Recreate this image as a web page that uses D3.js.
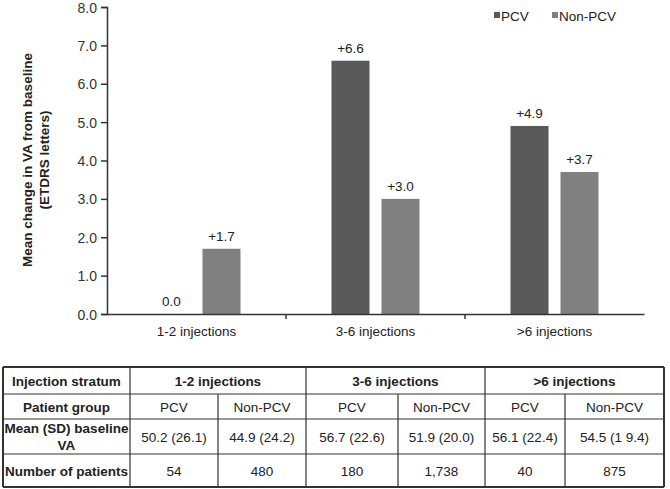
<!DOCTYPE html>
<html>
<head>
<meta charset="utf-8">
<script src="https://cdn.jsdelivr.net/npm/d3@7"></script>
<style>
  body { margin: 0; background: #fff; }
  svg { font-family: "Liberation Sans", Arial, sans-serif; }
</style>
</head>
<body>
<svg id="chart" width="670" height="489"></svg>
<script>
const categories = ['1-2 injections', '3-6 injections', '>6 injections'];
const groups = ['PCV', 'Non-PCV'];
const pcvValues = [0.0, 6.6, 4.9];
const nonPcvValues = [1.7, 3.0, 3.7];
const yTicks = [0, 1, 2, 3, 4, 5, 6, 7, 8];

// table contents
const tableHeader = ['Injection stratum', '1-2 injections', '3-6 injections', '>6 injections'];
const baselineVA = ['50.2 (26.1)', '44.9 (24.2)', '56.7 (22.6)', '51.9 (20.0)', '56.1 (22.4)', '54.5 (1 9.4)'];
const patientCounts = ['54', '480', '180', '1,738', '40', '875'];

const colors = d3.scaleOrdinal().domain(groups).range(['#595959', '#808080']);
const svg = d3.select('#chart');

let x0 = d3.scaleBand().domain(categories).range([107, 644]);
let x1 = d3.scaleBand().domain(groups).range([0, 88]).paddingInner(0.24);
let y = d3.scaleLinear().domain([0, 8]).range([314, 7]);

let data = categories.map((c, i) => ({ cat: c, values: [pcvValues[i], nonPcvValues[i]] }));

// bars
let cg = svg.selectAll('g.cat')
  .data(data)
  .join('g')
  .attr('class', 'cat')
  .attr('transform', d => `translate(${x0(d.cat) + (x0.bandwidth() - 88) / 2},0)`);

cg.selectAll('rect')
  .data(d => d.values.map((v, i) => ({ g: groups[i], v })))
  .join('rect')
  .attr('x', d => x1(d.g))
  .attr('y', d => y(d.v))
  .attr('width', x1.bandwidth())
  .attr('height', d => y(0) - y(d.v))
  .attr('fill', d => colors(d.g));

cg.selectAll('text')
  .data(d => d.values.map((v, i) => ({ g: groups[i], v })))
  .join('text')
  .attr('x', d => x1(d.g) + x1.bandwidth() / 2)
  .attr('y', d => y(d.v) - 8)
  .attr('text-anchor', 'middle')
  .attr('font-size', 13.5)
  .attr('fill', '#222')
  .text(d => d.v === 0 ? '0.0' : '+' + d.v.toFixed(1));

// y axis
let yAxis = svg.append('g')
  .attr('transform', 'translate(107,0)')
  .call(d3.axisLeft(y).tickValues(yTicks).tickFormat(d3.format('.1f')).tickSize(6).tickPadding(4));
yAxis.select('.domain').attr('stroke', '#333').attr('stroke-width', 1.5);
yAxis.selectAll('.tick line').attr('stroke', '#333').attr('stroke-width', 1.5);
yAxis.selectAll('.tick text').attr('font-size', 14).attr('fill', '#333').attr('font-family', null).attr('dy', '0.36em');

// x axis
let xAxis = svg.append('g')
  .attr('transform', 'translate(0,314)')
  .call(d3.axisBottom(x0).tickSize(0).tickPadding(12));
xAxis.select('.domain').attr('stroke', '#333').attr('stroke-width', 1.5);
xAxis.selectAll('.tick text').attr('font-size', 13.5).attr('fill', '#222').attr('font-family', null);
// category separators
xAxis.selectAll('line.sep')
  .data(categories.slice(1))
  .join('line')
  .attr('class', 'sep')
  .attr('x1', d => x0(d)).attr('x2', d => x0(d))
  .attr('y1', 0).attr('y2', 5)
  .attr('stroke', '#333').attr('stroke-width', 1.5);

// y label
let yl = svg.append('text')
  .attr('transform', 'translate(36,160) rotate(-90)')
  .attr('text-anchor', 'middle')
  .attr('font-size', 13.5)
  .attr('font-weight', 'bold')
  .attr('fill', '#222');
yl.append('tspan').attr('x', 0).attr('dy', -4).text('Mean change in VA from baseline');
yl.append('tspan').attr('x', 0).attr('dy', 17).text('(ETDRS letters)');

// legend
let lg = svg.selectAll('g.leg')
  .data(groups)
  .join('g')
  .attr('class', 'leg')
  .attr('transform', (d, i) => `translate(${[494, 552][i]},16)`);
lg.append('rect').attr('x', 0).attr('y', -4).attr('width', 6).attr('height', 6).attr('fill', d => colors(d));
lg.append('text').attr('x', 7).attr('y', 5).attr('font-size', 13.5).attr('fill', '#222').text(d => d);

// table
const colX = [3, 130, 218, 306, 398, 485, 565, 664];
const rowY = [367, 394, 419, 454, 487];
let tbl = svg.append('g');

function cell(x, yy, w, h, lines, bold) {
  let t = tbl.append('text')
    .attr('text-anchor', 'middle')
    .attr('font-size', 13.5)
    .attr('font-weight', bold ? 'bold' : 'normal')
    .attr('fill', '#222');
  let n = lines.length;
  lines.forEach((s, k) => {
    t.append('tspan')
      .attr('x', x + w / 2)
      .attr('y', yy + h / 2 + 5 + (k - (n - 1) / 2) * 17)
      .text(s);
  });
}

// horizontal lines
tbl.selectAll('line.h')
  .data(rowY)
  .join('line')
  .attr('class', 'h')
  .attr('x1', colX[0]).attr('x2', colX[7])
  .attr('y1', d => d).attr('y2', d => d)
  .attr('stroke', '#333')
  .attr('stroke-width', (d, i) => (i === 0 || i === rowY.length - 1) ? 2 : 1.2);

// vertical lines
colX.forEach((cx, i) => {
  let outer = i === 0 || i === colX.length - 1;
  let major = i % 2 === 1 || outer;
  tbl.append('line')
    .attr('x1', cx).attr('x2', cx)
    .attr('y1', major ? rowY[0] : rowY[1]).attr('y2', rowY[4])
    .attr('stroke', '#333')
    .attr('stroke-width', outer ? 2 : 1.2);
});

// header row
cell(colX[0], rowY[0], colX[1] - colX[0], rowY[1] - rowY[0], [tableHeader[0]], true);
for (let g = 0; g < 3; g++) {
  cell(colX[1 + 2 * g], rowY[0], colX[3 + 2 * g] - colX[1 + 2 * g], rowY[1] - rowY[0], [tableHeader[g + 1]], true);
}
cell(colX[0], rowY[1], colX[1] - colX[0], rowY[2] - rowY[1], ['Patient group'], true);
cell(colX[0], rowY[2], colX[1] - colX[0], rowY[3] - rowY[2], ['Mean (SD) baseline', 'VA'], true);
cell(colX[0], rowY[3], colX[1] - colX[0], rowY[4] - rowY[3], ['Number of patients'], true);
for (let c = 0; c < 6; c++) {
  let w = colX[c + 2] - colX[c + 1];
  cell(colX[c + 1], rowY[1], w, rowY[2] - rowY[1], [groups[c % 2]], false);
  cell(colX[c + 1], rowY[2], w, rowY[3] - rowY[2], [baselineVA[c]], false);
  cell(colX[c + 1], rowY[3], w, rowY[4] - rowY[3], [patientCounts[c]], false);
}
</script>
</body>
</html>
